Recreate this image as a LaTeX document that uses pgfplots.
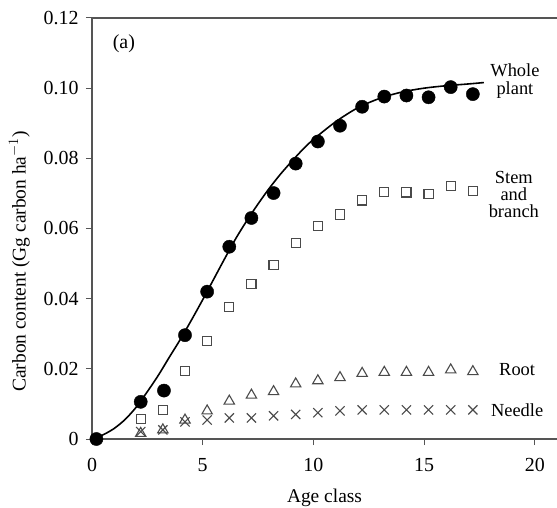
\documentclass[border=0pt]{standalone}
\usepackage{pgfplots}
\pgfplotsset{compat=1.18}
\usepackage{fontspec}
\setmainfont{Liberation Serif}
\definecolor{axgray}{HTML}{555555}
\definecolor{mkgray}{HTML}{4a4a4a}
\begin{document}
\begin{tikzpicture}
\begin{axis}[
  scale only axis,
  width=465bp, height=421bp,
  xmin=0, xmax=21, ymin=0, ymax=0.12,
  axis x line=box, axis y line=left,
  axis line style={axgray, line width=1.1pt, -},
  xtick={0,5,10,15,20}, ytick={0,0.02,0.04,0.06,0.08,0.10,0.12},
  yticklabels={0,0.02,0.04,0.06,0.08,0.10,0.12},
  xtick pos=bottom, ytick pos=left,
  tick align=outside, major tick length=6bp,
  tick style={axgray, line width=1pt},
  /pgf/number format/assume math mode=true,
  ticklabel style={font=\fontsize{20}{22}\selectfont},
  yticklabel style={xshift=-4bp},
  xticklabel style={yshift=-10bp},
  xlabel={Age class}, ylabel={Carbon content (Gg carbon ha$^{-1}$)},
  label style={font=\fontsize{19.5}{21}\selectfont},
  xlabel style={yshift=-10bp},
  ylabel style={yshift=7bp, xshift=-33bp},
  clip=false,
]
% fitted curve
\addplot[black, line width=1.6pt, smooth, no marks] coordinates {
(0,0) (0.5,0.0012) (1,0.003) (1.5,0.0056) (2,0.0091) (2.5,0.0135) (3,0.0182) (3.5,0.0234) (4,0.0285)
(4.5,0.034) (5,0.0397) (5.5,0.0456) (6,0.0515) (6.5,0.0572) (7,0.0623) (7.5,0.0670) (8,0.0714)
(8.5,0.0754) (9,0.0790) (9.5,0.0824) (10,0.0854) (11,0.0904) (12,0.0944) (13,0.0971)
(14,0.0989) (15,0.1000) (16,0.1007) (17,0.1012) (17.7,0.1016)};
% whole plant
\addplot[only marks, mark=*, mark size=6.6bp, black] coordinates {
(0.2,0) (2.2,0.0106) (3.25,0.0138) (4.2,0.0296) (5.2,0.042) (6.2,0.0548) (7.2,0.063) (8.2,0.0701)
(9.2,0.0785) (10.2,0.0848) (11.2,0.0893) (12.2,0.0947) (13.2,0.0976) (14.2,0.0979) (15.2,0.0974)
(16.2,0.1003) (17.2,0.0983)};
% stem and branch
\addplot[only marks, mark=square, mark size=4.6bp, mkgray, mark options={line width=1.1pt}] coordinates {
(2.2,0.0057) (3.2,0.0083) (4.2,0.0194) (5.2,0.028) (6.2,0.0377) (7.2,0.0441) (8.2,0.0496)
(9.2,0.0558) (10.2,0.0608) (11.2,0.064) (12.2,0.068) (13.2,0.0705) (14.2,0.0703) (15.2,0.0698)
(16.2,0.0722) (17.2,0.0707)};
% root
\addplot[only marks, mark=triangle, mark size=6bp, mkgray, mark options={line width=1.1pt}] coordinates {
(2.2,0.0016) (3.2,0.0026) (4.2,0.0054) (5.2,0.008) (6.2,0.0108) (7.2,0.0125) (8.2,0.0135)
(9.2,0.0157) (10.2,0.0166) (11.2,0.0175) (12.2,0.0187) (13.2,0.019) (14.2,0.019) (15.2,0.019)
(16.2,0.0197) (17.2,0.0192)};
% needle
\addplot[only marks, mark=x, mark size=6.5bp, mkgray, mark options={line width=1.1pt}] coordinates {
(2.2,0.0021) (3.2,0.0026) (4.2,0.0049) (5.2,0.0054) (6.2,0.006) (7.2,0.006) (8.2,0.0066)
(9.2,0.007) (10.2,0.0075) (11.2,0.008) (12.2,0.0083) (13.2,0.0083) (14.2,0.0083) (15.2,0.0083)
(16.2,0.0083) (17.2,0.0083)};
\node[font=\fontsize{20}{22}\selectfont] at (axis cs:1.44,0.1126) {(a)};
\node[font=\fontsize{18.5}{17.5}\selectfont, align=center] at (axis cs:19.1,0.102) {Whole\\plant};
\node[font=\fontsize{18.5}{17}\selectfont, align=center] at (axis cs:19.05,0.0698) {Stem\\and\\branch};
\node[font=\fontsize{18.5}{20}\selectfont] at (axis cs:19.2,0.0197) {Root};
\node[font=\fontsize{18.5}{20}\selectfont] at (axis cs:19.2,0.0083) {Needle};
\end{axis}
\pgfresetboundingbox
\path ([shift={(-92bp,-69bp)}]current axis.south west) rectangle ([shift={(0bp,18bp)}]current axis.north east);
\end{tikzpicture}
\end{document}
